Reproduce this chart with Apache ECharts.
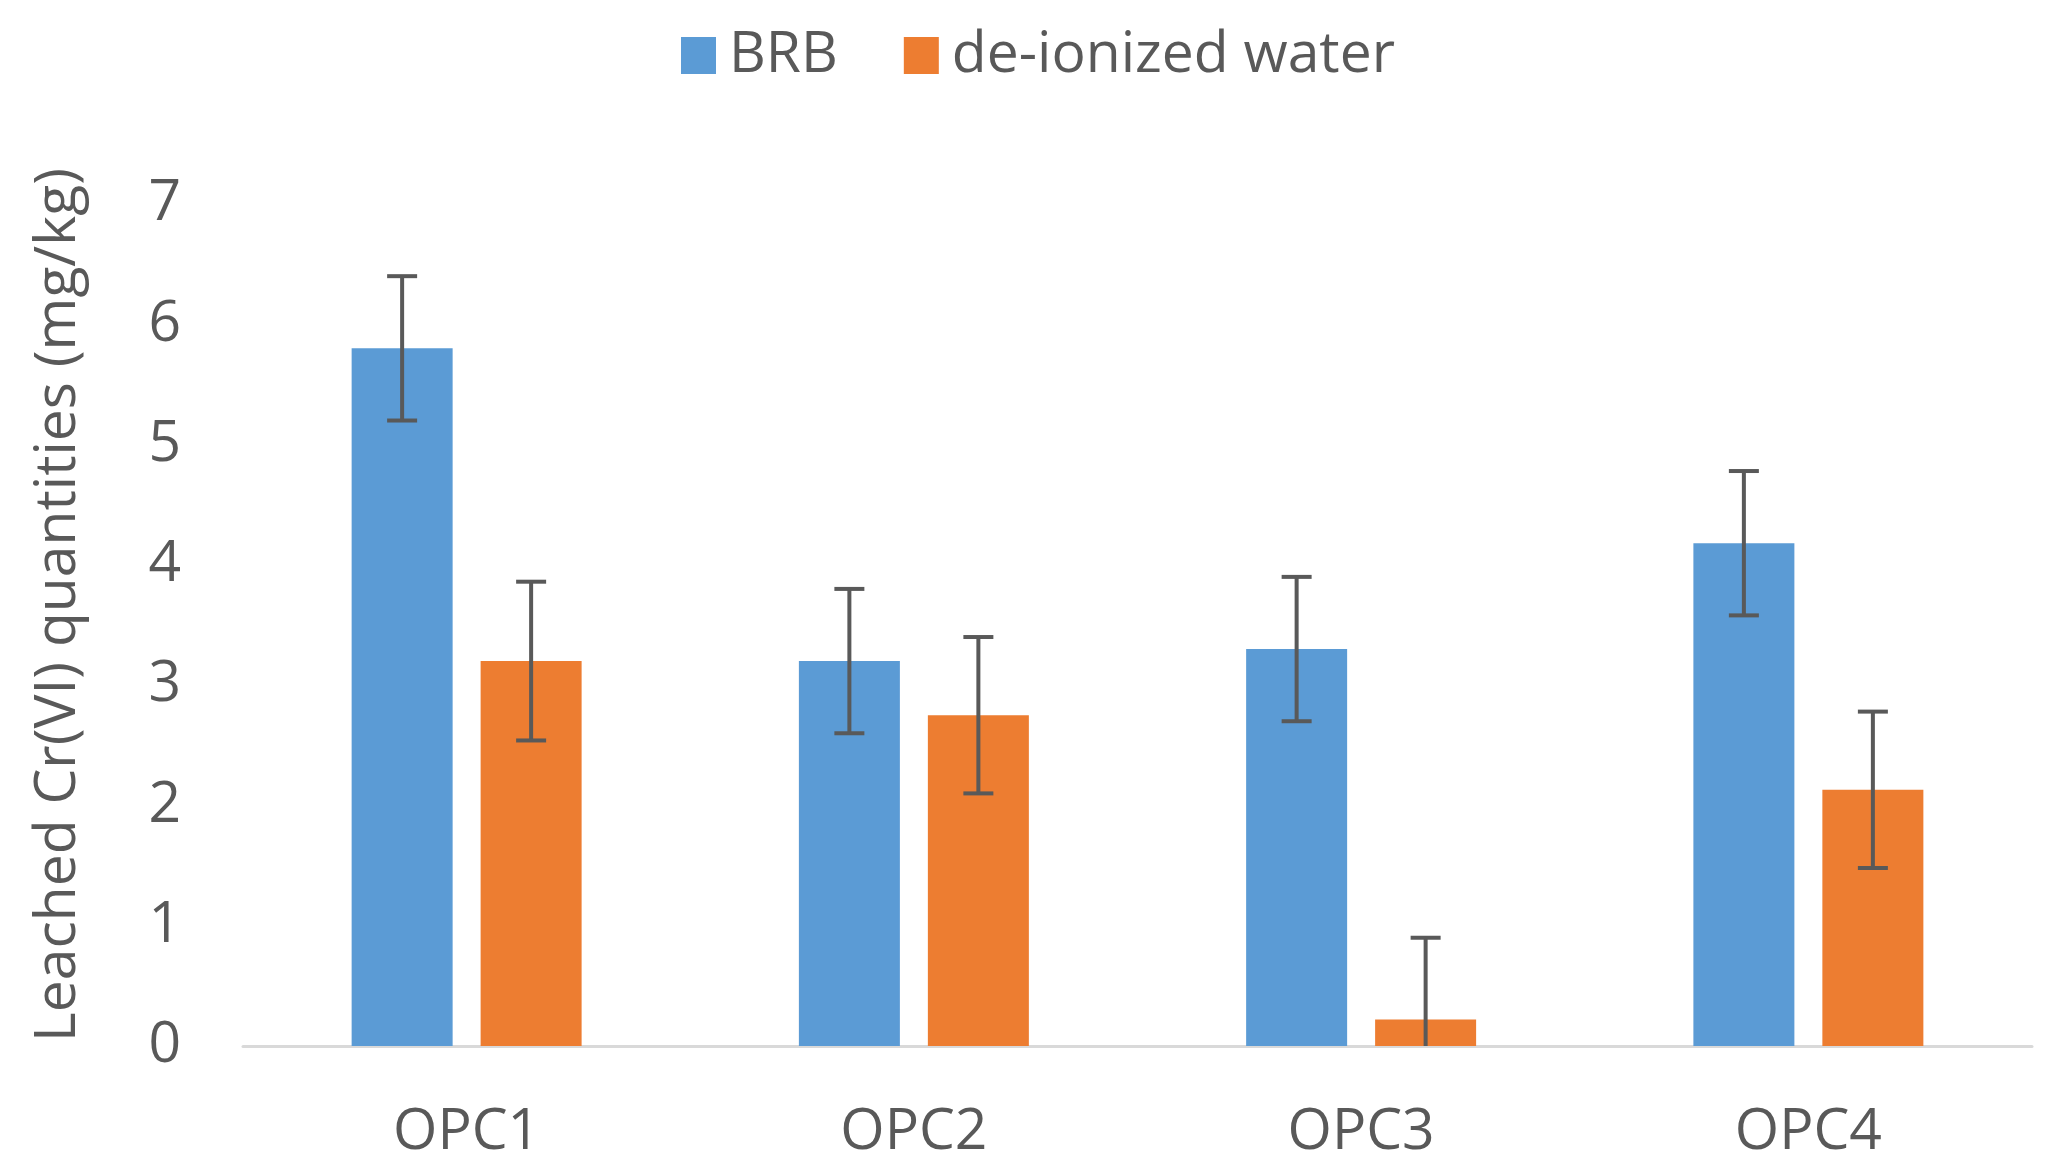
<!DOCTYPE html>
<html>
<head>
<meta charset="utf-8">
<script src="https://cdn.jsdelivr.net/npm/echarts@6/dist/echarts.min.js"></script>
<style>
  html, body { margin: 0; padding: 0; background: #fff; }
  #chart { width: 2048px; height: 1172px; }
</style>
</head>
<body>
<div id="chart"></div>
<script>
    var categories = ['OPC1', 'OPC2', 'OPC3', 'OPC4'];
    var brbValues = [5.8, 3.2, 3.3, 4.18];
    var brbErrors = [0.6, 0.6, 0.6, 0.6];
    var waterValues = [3.2, 2.75, 0.22, 2.13];
    var waterErrors = [0.66, 0.65, 0.68, 0.65];
    var yTicks = [0, 1, 2, 3, 4, 5, 6, 7];

    var textColor = '#595959';
    var barWidth = 101;
    var gapPx = 28;

    var chart = echarts.init(document.getElementById('chart'));

    function errorData(values, errors) {
        return values.map(function (v, i) {
            return [i, Math.max(0, v - errors[i]), v + errors[i]];
        });
    }

    // draws a vertical whisker with caps, shifted to sit on its bar
    function makeErrorRenderer(side) {
        return function (params, api) {
            var x = api.value(0);
            var lo = api.coord([x, api.value(1)]);
            var hi = api.coord([x, api.value(2)]);
            var shift = side * (barWidth + gapPx) / 2;
            var cx = lo[0] + shift;
            var half = 15;
            var style = { stroke: textColor, lineWidth: 4 };
            var children = [
                { type: 'line', shape: { x1: cx, y1: hi[1], x2: cx, y2: lo[1] }, style: style },
                { type: 'line', shape: { x1: cx - half, y1: hi[1], x2: cx + half, y2: hi[1] }, style: style }
            ];
            if (api.value(1) > 0) {
                children.push({ type: 'line', shape: { x1: cx - half, y1: lo[1], x2: cx + half, y2: lo[1] }, style: style });
            }
            return { type: 'group', children: children };
        };
    }

    var option = {
        animation: false,
        textStyle: { fontFamily: 'Open Sans' },
        legend: {
            top: 22,
            left: 676,
            itemWidth: 35,
            itemHeight: 37,
            itemGap: 66,
            icon: 'rect',
            textStyle: { color: textColor, fontSize: 57, fontFamily: 'Open Sans', padding: [6, 0, 0, 8] },
            data: ['BRB', 'de-ionized water']
        },
        grid: { left: 243, right: 16, top: 204, bottom: 126 },
        xAxis: {
            type: 'category',
            data: categories,
            axisLine: { lineStyle: { color: '#d9d9d9', width: 3 } },
            axisTick: { show: false },
            axisLabel: { color: textColor, fontSize: 57, margin: 58 }
        },
        yAxis: {
            type: 'value',
            min: yTicks[0],
            max: yTicks[yTicks.length - 1],
            interval: 1,
            name: 'Leached Cr(VI) quantities (mg/kg)',
            nameLocation: 'middle',
            nameGap: 156,
            nameTextStyle: { color: textColor, fontSize: 57, padding: [0, 0, 0, 40] },
            axisLine: { show: false },
            axisTick: { show: false },
            splitLine: { show: false },
            axisLabel: { color: textColor, fontSize: 57, margin: 62 }
        },
        series: [
            {
                name: 'BRB',
                type: 'bar',
                data: brbValues,
                barWidth: barWidth,
                barGap: (gapPx / barWidth * 100).toFixed(1) + '%',
                itemStyle: { color: '#5B9BD5' }
            },
            {
                name: 'de-ionized water',
                type: 'bar',
                data: waterValues,
                barWidth: barWidth,
                itemStyle: { color: '#ED7D31' }
            },
            {
                type: 'custom',
                renderItem: makeErrorRenderer(-1),
                data: errorData(brbValues, brbErrors),
                encode: { x: 0, y: [1, 2] },
                z: 10
            },
            {
                type: 'custom',
                renderItem: makeErrorRenderer(1),
                data: errorData(waterValues, waterErrors),
                encode: { x: 0, y: [1, 2] },
                z: 10
            }
        ]
    };

    chart.setOption(option);

    window.addEventListener('resize', function () {
        chart.resize();
    });
</script>
</body>
</html>
